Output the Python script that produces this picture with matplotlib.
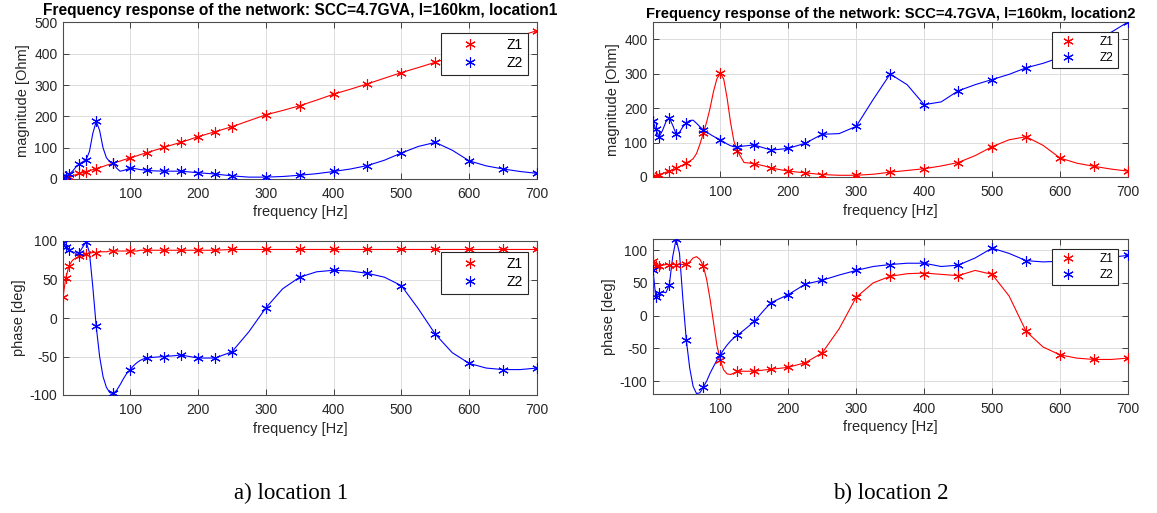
import matplotlib
matplotlib.use("Agg")
import matplotlib.pyplot as plt
from matplotlib.lines import Line2D

plt.rcParams["font.family"] = ["Liberation Sans", "DejaVu Sans"]
plt.rcParams["axes.unicode_minus"] = False

# Frequencies of the computed points (markers)
f_mark = [1, 5, 10, 25, 35, 50, 75, 100, 125, 150, 175, 200, 225, 250,
          300, 350, 400, 450, 500, 550, 600, 650, 700]

# Frequencies of the continuous response curves
f_line = [1, 5, 10, 15, 20, 25, 30, 35, 40, 45, 50, 55, 60, 65, 70, 75, 80, 85,
          90, 95, 100, 105, 110, 115, 120, 125, 135, 150, 165, 175, 200, 225,
          250, 275, 300, 325, 350, 375, 400, 425, 450, 475, 500, 525, 550, 575,
          600, 625, 650, 675, 700]

# ---- location 1 ----
loc1_mag_z1 = [1, 4, 7, 18, 23, 33, 50, 68, 84, 101, 117, 135, 151, 167,
               205, 234, 271, 304, 340, 373, 406, 440, 474]
loc1_mag_z2 = [3, 9, 15, 48, 61, 184, 52, 34, 28, 25, 25, 20, 16, 10,
               6, 12, 24, 43, 83, 117, 58, 32, 18]
loc1_ph_z1 = [27, 52, 68, 80, 83, 85, 87, 87, 88, 88, 88, 88, 88, 89,
              89, 89, 89, 89, 89, 89, 89, 89, 89]
loc1_ph_z2 = [98, 92, 88, 85, 99, -11, -97, -67, -52, -50, -48, -52, -52, -44,
              13, 53, 62, 58, 42, -21, -59, -67, -65]

loc1_mag_z1_line = [1, 4, 7, 10, 14, 18, 20, 23, 27, 30, 33, 37, 40, 44, 47, 50,
                    54, 57, 61, 64, 68, 71, 74, 78, 81, 84, 91, 101, 111, 117,
                    135, 151, 167, 186, 205, 219, 234, 252, 271, 287, 304, 322,
                    340, 356, 373, 390, 406, 423, 440, 457, 474]
loc1_mag_z2_line = [3, 9, 15, 25, 38, 48, 55, 61, 88, 146, 184, 155, 100, 68, 55,
                    52, 35, 25, 27, 31, 34, 34, 32, 30, 29, 28, 26, 25, 25, 25,
                    20, 16, 10, 6, 6, 8, 12, 17, 24, 32, 43, 60, 83, 104, 117,
                    92, 58, 42, 32, 24, 18]
loc1_ph_z1_line = [27, 52, 68, 75, 78, 80, 82, 83, 84, 85, 85, 86, 86, 86, 87,
                   87, 87, 87, 87, 87, 87, 87, 87, 88, 88, 88, 88, 88, 88, 88,
                   88, 88, 89, 89, 89, 89, 89, 89, 89, 89, 89, 89, 89, 89, 89,
                   89, 89, 89, 89, 89, 89]
loc1_ph_z2_line = [98, 92, 88, 86, 84, 85, 92, 99, 85, 40, -11, -50, -76, -90,
                   -97, -98, -94, -87, -79, -72, -67, -62, -58, -55, -53, -52,
                   -51, -50, -49, -48, -52, -52, -44, -18, 13, 38, 53, 60, 62,
                   61, 58, 53, 42, 12, -21, -45, -59, -65, -67, -67, -65]

# ---- location 2 ----
loc2_mag_z1 = [1, 3, 6, 17, 25, 41, 127, 301, 76, 39, 26, 17, 12, 7,
               5, 14, 24, 42, 88, 117, 55, 31, 17]
loc2_mag_z2 = [163, 138, 117, 172, 125, 157, 137, 108, 87, 93, 78, 83, 98, 124,
               147, 299, 210, 250, 283, 317, 347, 392, 450]
loc2_ph_z1 = [84, 76, 76, 78, 78, 79, 76, -68, -85, -85, -82, -79, -72, -57,
              28, 60, 64, 61, 63, -24, -60, -67, -65]
loc2_ph_z2 = [70, 29, 34, 47, 117, -37, -109, -60, -30, -9, 20, 32, 48, 54,
              69, 78, 80, 77, 103, 84, 83, 86, 92]

loc2_mag_z1_line = [1, 3, 6, 10, 14, 17, 21, 25, 30, 35, 41, 46, 53, 68, 95, 127,
                    160, 200, 248, 285, 301, 285, 230, 160, 105, 76, 42, 39, 32,
                    26, 17, 12, 7, 5, 5, 8, 14, 19, 24, 32, 42, 62, 88, 108, 117,
                    92, 55, 40, 31, 23, 17]
loc2_mag_z2_line = [163, 138, 117, 135, 160, 172, 150, 125, 130, 146, 157, 164,
                    165, 156, 146, 137, 130, 124, 118, 113, 108, 102, 96, 91, 88,
                    87, 90, 93, 84, 78, 83, 98, 124, 126, 147, 225, 299, 268, 210,
                    218, 250, 268, 283, 298, 317, 330, 347, 367, 392, 420, 450]
loc2_ph_z1_line = [84, 76, 76, 77, 78, 78, 78, 78, 78, 78, 79, 82, 88, 90, 86,
                   76, 55, 25, -10, -45, -68, -83, -89, -90, -88, -85, -85, -85,
                   -83, -82, -79, -72, -57, -20, 28, 50, 60, 64, 65, 63, 61, 69,
                   63, 30, -24, -48, -60, -65, -67, -67, -65]
loc2_ph_z2_line = [70, 29, 34, 36, 35, 47, 90, 117, 95, 25, -37, -80, -108, -119,
                   -118, -109, -100, -88, -78, -68, -60, -52, -45, -39, -34, -30,
                   -22, -9, 9, 20, 32, 48, 54, 62, 69, 75, 78, 80, 80, 75, 77,
                   88, 103, 95, 84, 82, 83, 84, 86, 89, 92]

titles = ["Frequency response of the network: SCC=4.7GVA, l=160km, location1",
          "Frequency response of the network: SCC=4.7GVA, l=160km, location2"]
captions = ["a) location 1", "b) location 2"]
series_names = ["Z1", "Z2"]
x_ticks = [100, 200, 300, 400, 500, 600, 700]

RED = "#ff0000"
BLUE = "#0000ff"
AX_COL = "#262626"
STAR = (6, 2, 0)

fig = plt.figure(figsize=(11.57, 5.13), dpi=100)
W, H = 1157.0, 513.0


def make_axes(x0, x1, y0, y1):
    return fig.add_axes([x0 / W, 1 - y1 / H, (x1 - x0) / W, (y1 - y0) / H])


panels = [
    dict(ax=make_axes(63, 537, 22.5, 179), z1=loc1_mag_z1, z2=loc1_mag_z2,
         l1=loc1_mag_z1_line, l2=loc1_mag_z2_line, ylim=(0, 500),
         yticks=[0, 100, 200, 300, 400, 500], ylabel="magnitude [Ohm]",
         title=titles[0], tfs=11.2, tpad=5.5,
         leg=dict(fs=10, anchor=(0.981, 0.933), hl=3.5, tp=0.9)),
    dict(ax=make_axes(63, 537, 241, 395), z1=loc1_ph_z1, z2=loc1_ph_z2,
         l1=loc1_ph_z1_line, l2=loc1_ph_z2_line, ylim=(-100, 100),
         yticks=[-100, -50, 0, 50, 100], ylabel="phase [deg]",
         title=None, tfs=None, tpad=None,
         leg=dict(fs=10, anchor=(0.981, 0.929), hl=3.5, tp=0.9)),
    dict(ax=make_axes(653, 1128, 22, 177), z1=loc2_mag_z1, z2=loc2_mag_z2,
         l1=loc2_mag_z1_line, l2=loc2_mag_z2_line, ylim=(0, 450),
         yticks=[0, 100, 200, 300, 400], ylabel="magnitude [Ohm]",
         title=titles[1], tfs=10.6, tpad=3,
         leg=dict(fs=8.5, anchor=(0.979, 0.935), hl=2.0, tp=1.7)),
    dict(ax=make_axes(653, 1128, 239, 393.5), z1=loc2_ph_z1, z2=loc2_ph_z2,
         l1=loc2_ph_z1_line, l2=loc2_ph_z2_line, ylim=(-119, 117),
         yticks=[-100, -50, 0, 50, 100], ylabel="phase [deg]",
         title=None, tfs=None, tpad=None,
         leg=dict(fs=8.5, anchor=(0.979, 0.935), hl=2.0, tp=1.7)),
]

for p in panels:
    ax = p["ax"]
    ax.plot(f_line, p["l1"], color=RED, lw=0.8, zorder=2)
    ax.plot(f_line, p["l2"], color=BLUE, lw=0.8, zorder=2)
    ax.plot(f_mark, p["z1"], ls="none", marker=STAR, ms=7.5, mew=0.8,
            color=RED, zorder=3)
    ax.plot(f_mark, p["z2"], ls="none", marker=STAR, ms=7.5, mew=0.8,
            color=BLUE, zorder=3)

    ax.set_xlim(1, 700)
    ax.set_ylim(*p["ylim"])
    ax.set_xticks(x_ticks)
    ax.set_yticks(p["yticks"])
    ax.grid(True, color="#dcdcdc", lw=0.7)
    ax.set_axisbelow(True)
    ax.tick_params(direction="in", top=True, right=True, length=4, width=0.6,
                   colors=AX_COL, labelsize=10)
    ax.tick_params(axis="x", pad=6)
    ax.tick_params(axis="y", pad=4)
    for s in ax.spines.values():
        s.set_color("#4d4d4d")
        s.set_linewidth(0.8)
    ax.set_xlabel("frequency [Hz]", fontsize=10.5, color=AX_COL, labelpad=3)
    ax.set_ylabel(p["ylabel"], fontsize=10.5, color=AX_COL, labelpad=3)
    if p["title"]:
        ax.set_title(p["title"], fontsize=p["tfs"], fontweight="bold",
                     pad=p["tpad"])

    lg = p["leg"]
    handles = [Line2D([], [], ls="none", marker=STAR, ms=7.5, mew=0.8, color=c)
               for c in (RED, BLUE)]
    leg = ax.legend(handles, series_names, loc="upper right",
                    bbox_to_anchor=lg["anchor"], borderaxespad=0,
                    fontsize=lg["fs"], handlelength=lg["hl"],
                    handletextpad=lg["tp"], labelspacing=0.3, borderpad=0.35,
                    fancybox=False, framealpha=1, edgecolor="#262626")
    leg.get_frame().set_linewidth(0.8)

fig.text(291 / W, 1 - 493 / H, captions[0], ha="center", va="center",
         fontsize=16.5, family=["Liberation Serif", "DejaVu Serif"])
fig.text(891 / W, 1 - 493 / H, captions[1], ha="center", va="center",
         fontsize=16.5, family=["Liberation Serif", "DejaVu Serif"])

fig.savefig("out.png", dpi=100)
